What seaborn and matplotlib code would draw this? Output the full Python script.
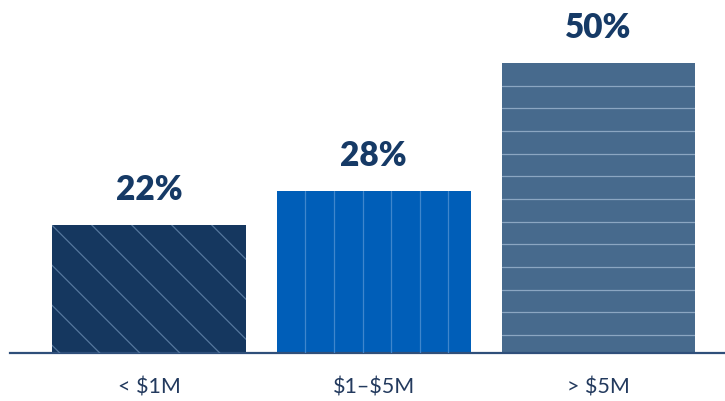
import numpy as np
import pandas as pd
import matplotlib.pyplot as plt
import seaborn as sns

categories = ["< $1M", "$1–$5M", "> $5M"]
values = [22, 28, 50]
labels = ["22%", "28%", "50%"]

BAR_COLORS = ["#15375f", "#005eb8", "#476a8d"]
LINE_COLORS = ["#55779d", "#3f86cc", "#8ba6c2"]
TEXT = "#163a66"
AXIS = "#2f4f7a"

sns.set_theme(style="white")
plt.rcParams["font.family"] = ["Lato", "DejaVu Sans"]
plt.rcParams["text.parse_math"] = False

df = pd.DataFrame({"cat": categories, "val": values})

fig = plt.figure(figsize=(7.25, 4.01), dpi=100)
ax = fig.add_axes([10 / 725, 48 / 401, 715 / 725, 353 / 401])

sns.barplot(data=df, x="cat", y="val", hue="cat", palette=BAR_COLORS,
            width=0.862, legend=False, ax=ax, saturation=1, linewidth=0)

ax.set_xlim(-0.6185, 2.563)
ax.set_ylim(0, 60.86)

# px per data unit, so the stripes keep a fixed pixel spacing
px_x = 715 / (2.563 + 0.6185)
px_y = 353 / 60.86

for i, p in enumerate(ax.patches[:3]):
    x0, w, h = p.get_x(), p.get_width(), p.get_height()
    c = LINE_COLORS[i]
    if i == 0:
        # diagonal stripes at 45 deg on screen, 40px apart horizontally
        step = 40 / px_x
        for k in range(-10, 20):
            xs = np.array([x0 + k * step - 2, x0 + k * step + 2])
            ys = h - (xs - (x0 + k * step)) * (px_x / px_y)
            ln, = ax.plot(xs, ys, color=c, lw=0.9, zorder=3)
            ln.set_clip_path(p)
    elif i == 1:
        step = 28.6 / px_x
        for k in range(1, 7):
            ln, = ax.plot([x0 + k * step] * 2, [0, h], color=c, lw=0.9, zorder=3)
            ln.set_clip_path(p)
    else:
        step = 22.67 / px_y
        for k in range(1, 13):
            yy = h - k * step
            ln, = ax.plot([x0, x0 + w], [yy, yy], color=c, lw=0.9, zorder=3)
            ln.set_clip_path(p)

for p, lab in zip(ax.patches[:3], labels):
    ax.text(p.get_x() + p.get_width() / 2, p.get_height() + 4.3, lab,
            ha="center", va="baseline", fontsize=24, fontweight="heavy",
            color=TEXT)

sns.despine(ax=ax, left=True, top=True, right=True)
ax.spines["bottom"].set_color(AXIS)
ax.spines["bottom"].set_linewidth(1.6)
ax.set_xlabel("")
ax.set_ylabel("")
ax.set_yticks([])
ax.tick_params(axis="x", length=0, pad=18, labelsize=15.5, labelcolor="#233a5e")

fig.savefig("out.png", dpi=100, facecolor="white")
